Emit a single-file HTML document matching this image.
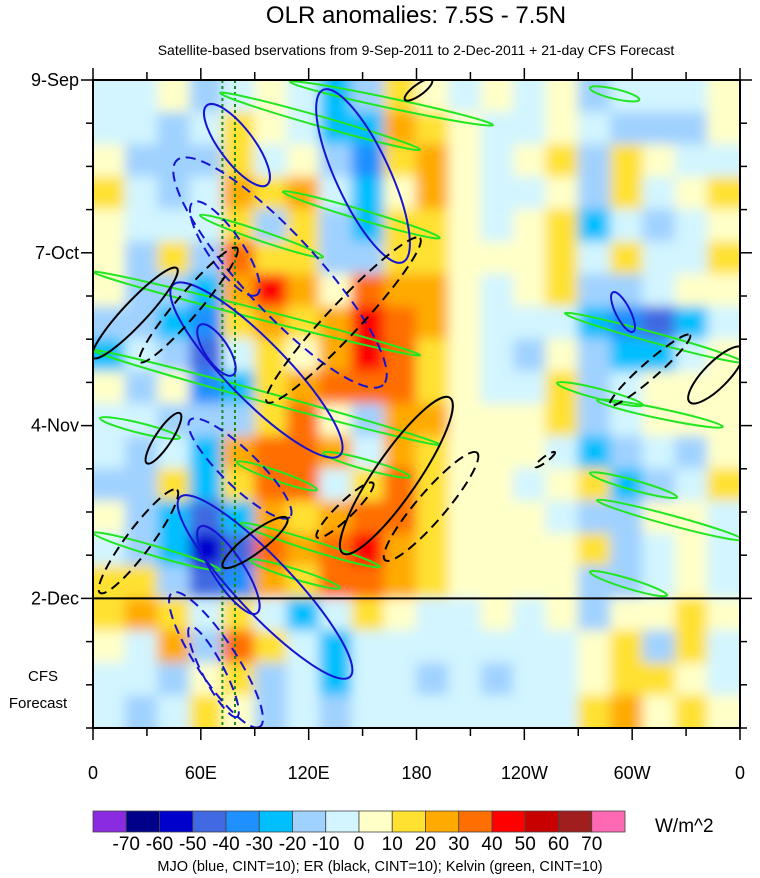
<!DOCTYPE html>
<html><head><meta charset="utf-8">
<style>
html,body{margin:0;padding:0;background:#fff;}
svg{display:block;font-family:"Liberation Sans",sans-serif;}
</style></head>
<body>
<svg id="chart" width="760" height="878" viewBox="0 0 760 878" xmlns="http://www.w3.org/2000/svg">
<defs>
<clipPath id="plotclip"><rect x="93" y="80" width="647" height="648"/></clipPath>
<filter id="soft" filterUnits="userSpaceOnUse" x="80" y="67" width="673" height="674"><feGaussianBlur stdDeviation="6"/></filter>
</defs>
<text x="416" y="23" font-size="24" text-anchor="middle">OLR anomalies: 7.5S - 7.5N</text>
<text x="416" y="55" font-size="14" text-anchor="middle">Satellite-based bservations from 9-Sep-2011 to 2-Dec-2011 + 21-day CFS Forecast</text>
<rect x="93" y="80" width="647" height="648" fill="#ffffc8"/>
<g clip-path="url(#plotclip)"><g id="heat" filter="url(#soft)"></g></g>
<g id="overlay" clip-path="url(#plotclip)"></g>
<g id="axes"></g>
<g id="cbar"></g>
<text x="655" y="832" font-size="19">W/m^2</text>
<text x="380" y="871" font-size="14.5" text-anchor="middle">MJO (blue, CINT=10); ER (black, CINT=10); Kelvin (green, CINT=10)</text>
<text x="43" y="681" font-size="15" text-anchor="middle">CFS</text>
<text x="38" y="708" font-size="15" text-anchor="middle">Forecast</text>
</svg>
<script>
// ---- data ----
const lonTickVals = [0,60,120,180,240,300,360];
const lonTickLabels = ["0","60E","120E","180","120W","60W","0"];
const dateTickDays = [0,28,56,84];
const dateTickLabels = ["9-Sep","7-Oct","4-Nov","2-Dec"];
const cbarLevels = [-70,-60,-50,-40,-30,-20,-10,0,10,20,30,40,50,60,70];
const cbarColors = ["#8a2be2","#00008b","#0000cd","#4169e1","#1e90ff","#00bfff","#a0d2ff","#d2f5ff","#ffffc8","#ffe132","#ffaa00","#ff6e00","#ff0000","#c80000","#a01e1e","#ff69b4"];
const gridLons = 20, gridDays = 20; // cells span 18 deg x 5.25 days
const olrRow0  = [-5,-5,5,-15,-10,5,-10,-25,-20,15,5,-5,5,-5,5,-15,-10,-10,-5,5];
const olrRow1  = [-10,-5,-15,-5,10,5,-5,-25,-30,25,15,5,-5,-5,5,-10,-20,-15,-15,5];
const olrRow2  = [5,-15,-20,-15,15,-5,5,-20,-35,15,20,5,-10,5,10,-15,10,5,-10,-5];
const olrRow3  = [10,-10,-15,-5,25,10,25,-5,-30,5,20,5,-5,-5,5,-20,15,-10,5,10];
const olrRow4  = [5,-5,-10,-10,15,-15,10,-15,-25,10,15,5,-10,5,10,-25,-10,-15,-5,5];
const olrRow5  = [5,-20,15,-15,30,10,10,-20,-15,15,15,5,5,5,15,-10,10,-5,-10,10];
const olrRow6  = [5,-20,-15,-30,20,40,25,5,30,25,20,5,-5,5,15,-15,-20,-10,5,5];
const olrRow7  = [-20,-15,-30,-40,15,20,15,20,45,30,20,5,-5,-10,-5,-25,-40,-50,-25,-10];
const olrRow8  = [-25,-10,-20,-50,-10,10,5,20,40,35,15,5,-10,-20,5,-20,-25,-30,-10,5];
const olrRow9  = [5,-15,5,-40,-30,10,20,30,30,30,15,5,-5,-5,10,-20,-10,5,5,5];
const olrRow10 = [-10,-5,-15,-20,-15,15,30,5,-15,25,20,5,5,5,10,-15,-5,5,5,5];
const olrRow11 = [-10,-20,-10,-25,20,30,35,25,-10,20,15,5,5,5,-10,-30,-15,-10,-15,5];
const olrRow12 = [-15,-15,15,-30,10,30,35,-5,15,30,15,5,5,-5,5,10,-25,-15,-5,10];
const olrRow13 = [5,-20,-30,-45,-30,20,10,20,35,35,10,5,5,5,-5,-20,-20,5,5,-5];
const olrRow14 = [-10,-20,-30,-60,-45,30,20,30,45,20,15,5,5,5,5,10,-15,-5,5,-10];
const olrRow15 = [10,10,-20,-50,-35,20,10,30,35,20,15,5,5,5,5,-20,-15,-10,5,-10];
const olrRow16 = [15,25,10,-10,15,-10,-25,-5,10,5,-5,-5,5,-5,5,-20,5,5,10,5];
const olrRow17 = [5,-5,20,-15,30,15,-10,-25,-5,-10,-10,-5,-5,-5,-10,5,15,-20,15,-5];
const olrRow18 = [-5,-10,-15,5,10,-15,-5,-30,-5,-10,-15,-5,-15,-5,-5,5,15,10,5,-5];
const olrRow19 = [-5,-15,-10,10,5,-15,-5,-20,-5,-5,-10,-5,-10,-5,-10,10,20,5,15,5];
const olrRows = [olrRow0,olrRow1,olrRow2,olrRow3,olrRow4,olrRow5,olrRow6,olrRow7,olrRow8,olrRow9,olrRow10,olrRow11,olrRow12,olrRow13,olrRow14,olrRow15,olrRow16,olrRow17,olrRow18,olrRow19];
// contours: [lon1, day1, lon2, day2, widthDeg]
const mjoPos = [[63.4,4.1,96.8,17.0,19],[128,1.6,172.5,29.5,30],[44.5,33.2,137.4,60.8,33],[59.5,39.7,77.9,47.8,13],[48.4,67.6,143,96.7,31],[59.5,72.4,91.2,86.4,17],[289.3,34.4,300.5,40.8,8]];
const mjoNeg = [[46.7,13,161.4,49.4,42],[55.6,19.8,91.2,34.8,19],[44,83.1,92.9,104.8,22],[54,88.6,80.1,103.2,12],[54,55.1,109.6,70.8,20]];
const erPos = [[0,45,46.7,30.5,13],[30,62.1,48.4,54,9],[72.3,78.9,108,71,11],[139,76.7,198.6,51.5,24],[332,52.2,361.6,43.4,14],[173.6,3.2,188.6,0,6]];
const erNeg = [[3.9,83.1,46.7,66.4,14],[26.2,45.7,80.1,27.2,13],[96.8,52.2,181.9,25.6,18],[162.5,77.8,213.7,60.4,16],[124.6,74.1,155.8,65.3,9],[287.7,52.7,332.2,41.3,9],[246,62.7,257,60.3,3]];
const kelvin = [[70.7,2.1,182,11.3],[109.6,0.3,222.6,7.3],[59.5,21.9,128,28.7],[105.7,18.1,193,25.6],[0,31.1,182,44.6],[0,43.8,193,59.1],[3.9,54.8,48.4,58],[80.1,61.9,124.6,66.4],[128,60.4,176.4,64.3],[81.8,71.8,159.7,78.9],[87.4,77.8,137.4,82.3],[0,73.4,70.7,79.4],[276.5,63.7,325,67.6],[280.4,68.1,361.6,74.5],[276.5,79.7,319.4,83.5],[262.6,37.8,361.6,45.7],[258.2,49.1,306,52.7],[280.4,51.9,350.5,56.2],[276.5,1.3,304,3.2]];
const refLons = [72,79];

// ---- scales ----
const X0=93,X1=740,Y0=80,Y1=728,DAYS=105;
const xS = lon => X0 + lon/360*(X1-X0);
const yS = d => Y0 + d/DAYS*(Y1-Y0);
const NS="http://www.w3.org/2000/svg";
function mk(tag, attrs, parent){const e=document.createElementNS(NS,tag);for(const k in attrs)e.setAttribute(k,attrs[k]);parent.appendChild(e);return e;}
function colorFor(v){let i=0;while(i<cbarLevels.length && v>=cbarLevels[i])i++;return cbarColors[i];}

// heatmap
const heat=document.getElementById('heat');
const dLon=360/gridLons, dDay=DAYS/gridDays;
olrRows.forEach((row,r)=>{row.forEach((v,c)=>{
  let x=xS(c*dLon)-0.5, y=yS(r*dDay)-0.5, w=xS((c+1)*dLon)-xS(c*dLon)+1, h=yS((r+1)*dDay)-yS(r*dDay)+1;
  if(c===0){x-=14;w+=14;} if(c===gridLons-1){w+=14;}
  if(r===0){y-=14;h+=14;} if(r===gridDays-1){h+=14;}
  const el=mk('rect',{x:x,y:y,width:w,height:h,fill:colorFor(v)},heat);
  
  
});});

// overlay contours
const ov=document.getElementById('overlay');
refLons.forEach(l=>{
  const el=mk('line',{x1:xS(l),x2:xS(l),y1:Y0,y2:Y1,stroke:'#1a8a1a','stroke-width':2,'stroke-dasharray':'3,3'},ov);
  
  
});
function ell(c,color,dash,name,sw){
  const x1=xS(c[0]),y1=yS(c[1]),x2=xS(c[2]),y2=yS(c[3]);
  const w=(c[4]!==undefined? c[4]:5.5)/360*(X1-X0);
  const cx=(x1+x2)/2,cy=(y1+y2)/2,len=Math.hypot(x2-x1,y2-y1);
  const ang=Math.atan2(y2-y1,x2-x1)*180/Math.PI;
  const a={cx:cx,cy:cy,rx:len/2,ry:w/2,fill:'none',stroke:color,'stroke-width':sw,transform:`rotate(${ang} ${cx} ${cy})`};
  if(dash)a['stroke-dasharray']=dash;
  const el=mk('ellipse',a,ov);
  
  
}
kelvin.forEach(c=>ell(c,'#22e622',null,'kelvin-contour',2));
mjoPos.forEach(c=>ell(c,'#1414d2',null,'mjo-positive-contour',2));
mjoNeg.forEach(c=>ell(c,'#1414d2','10,6','mjo-negative-contour',2));
erPos.forEach(c=>ell(c,'#000',null,'er-positive-contour',2));
erNeg.forEach(c=>ell(c,'#000','10,6','er-negative-contour',2));
{const el=mk('line',{x1:X0,x2:X1,y1:yS(84),y2:yS(84),stroke:'#000','stroke-width':2},ov);

}

// axes
const ax=document.getElementById('axes');
{const el=mk('rect',{x:X0,y:Y0,width:X1-X0,height:Y1-Y0,fill:'none',stroke:'#000','stroke-width':2},ax);

}
for(let l=0;l<=360;l+=30){
  const maj=(l%60===0);
  const len=maj?12:8;
  [[Y0,Y0-len],[Y1,Y1+len]].forEach(p=>{
    const t=mk('line',{x1:xS(l),x2:xS(l),y1:p[0],y2:p[1],stroke:'#000','stroke-width':1.5},ax);
    
    
  });
}
lonTickVals.forEach((l,i)=>{
  const t=mk('text',{x:xS(l),y:779,'font-size':18,'text-anchor':'middle'},ax);
  t.textContent=lonTickLabels[i];
  
  
});
for(let d=0;d<=DAYS;d+=7){
  const maj=(d%28===0);
  const len=maj?12:7;
  [[X0,X0-len],[X1,X1+len]].forEach(p=>{
    const t=mk('line',{x1:p[0],x2:p[1],y1:yS(d),y2:yS(d),stroke:'#000','stroke-width':1.5},ax);
    
    
  });
}
dateTickDays.forEach((d,i)=>{
  const t=mk('text',{x:79,y:yS(d)+6,'font-size':18,'text-anchor':'end'},ax);
  t.textContent=dateTickLabels[i];
  
  
});

// colorbar
const cb=document.getElementById('cbar');
const cbX0=93,cbX1=625,cbY=811,cbH=21,bw=(cbX1-cbX0)/cbarColors.length;
cbarColors.forEach((c,i)=>{
  const el=mk('rect',{x:cbX0+i*bw,y:cbY,width:bw,height:cbH,fill:c,stroke:'#444','stroke-width':0.8},cb);
  
  
});
cbarLevels.forEach((v,i)=>{
  const t=mk('text',{x:cbX0+(i+1)*bw,y:850,'font-size':19,'text-anchor':'middle'},cb);
  t.textContent=String(v);
  
  
});
</script>
</body></html>
